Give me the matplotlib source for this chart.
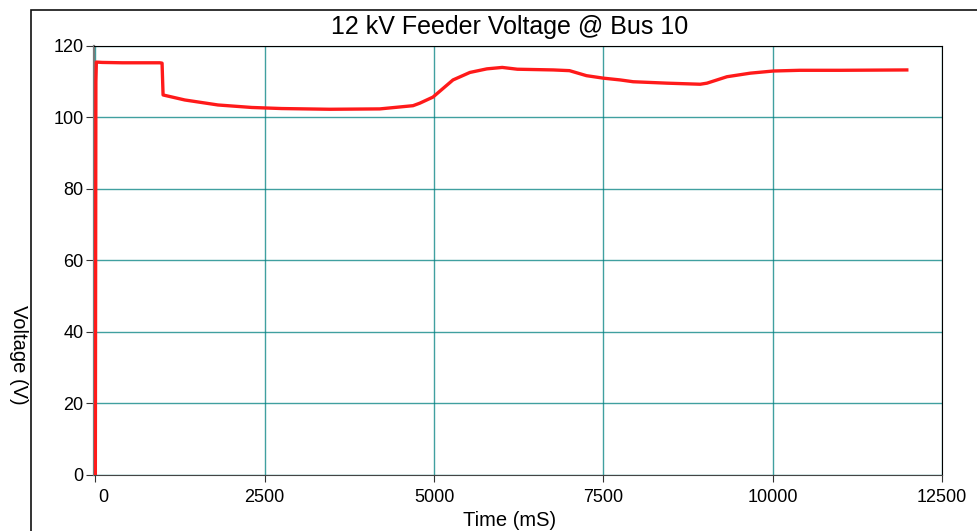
import matplotlib
matplotlib.use("Agg")
import matplotlib.pyplot as plt
from matplotlib.patches import Rectangle

plt.rcParams["font.family"] = ["Liberation Sans", "DejaVu Sans"]

# Напряжение на шине 10 (сглаженная огибающая, мс / В)
time_ms = [0, 8, 15, 100, 400, 700, 950, 985, 1000, 1320, 1810, 2310, 2750,
           3460, 4200, 4690, 4790, 4984, 5280, 5530, 5780, 6007, 6230, 6760,
           7000, 7250, 7500, 7750, 7940, 8440, 8930, 9030, 9325, 9670, 10010,
           10400, 11000, 11980]
voltage_v = [0.0, 110.0, 115.5, 115.4, 115.3, 115.3, 115.3, 115.2, 106.3,
             104.9, 103.5, 102.8, 102.5, 102.3, 102.4, 103.3, 104.0, 105.7,
             110.5, 112.6, 113.6, 114.0, 113.5, 113.3, 113.1, 111.7, 111.0,
             110.5, 110.0, 109.6, 109.3, 109.6, 111.4, 112.4, 113.0, 113.2,
             113.2, 113.3]

x_ticks = [0, 2500, 5000, 7500, 10000, 12500]
x_labels = ["", "2500", "5000", "7500", "10000", "12500"]
y_ticks = [0, 20, 40, 60, 80, 100, 120]

grid_color = "#008080"

fig = plt.figure(figsize=(9.77, 5.31), dpi=100)
ax = fig.add_axes([0.0962, 0.1055, 0.8680, 0.8079])

ax.plot(time_ms, voltage_v, color="#ff1a1a", linewidth=2.4,
        solid_joinstyle="round", zorder=3)

ax.set_xlim(-20, 12500)
ax.set_ylim(0, 120)
ax.set_xticks(x_ticks)
ax.set_xticklabels(x_labels)
ax.set_yticks(y_ticks)

# подпись "0" по оси X чуть сдвинута вправо от оси Y
ax.annotate("0", xy=(0, 0), xycoords=("data", "axes fraction"),
            xytext=(6, -10), textcoords="offset points",
            ha="center", va="top", fontsize=13)

ax.grid(True, color=grid_color, linewidth=1.0, alpha=0.75)
ax.set_axisbelow(True)

ax.tick_params(axis="both", labelsize=13, colors="#333333", labelcolor="black")
ax.tick_params(axis="y", length=6, pad=1.5)
ax.tick_params(axis="x", length=5, pad=5)

ax.spines["left"].set_color("#7a7a7a")
ax.spines["left"].set_linewidth(1.6)
ax.spines["bottom"].set_color("#444444")
ax.spines["top"].set_color("black")
ax.spines["right"].set_color("black")

fig.text(510 / 977, 1 - 27 / 531, "12 kV Feeder Voltage @ Bus 10",
         fontsize=18, ha="center", va="center")
fig.text(510 / 977, 1 - 521 / 531, "Time (mS)", fontsize=14.5,
         ha="center", va="center")
fig.text(18 / 977, 1 - 355 / 531, "Voltage (V)", fontsize=14.5,
         rotation=270, ha="center", va="center")

# рамка вокруг всего графика
fig.patches.append(Rectangle((30.5 / 977, -0.1), 1.2, 1.1 - 9.5 / 531,
                             transform=fig.transFigure, fill=False,
                             edgecolor="#111111", linewidth=1.2))

fig.savefig("out.png", dpi=100)
